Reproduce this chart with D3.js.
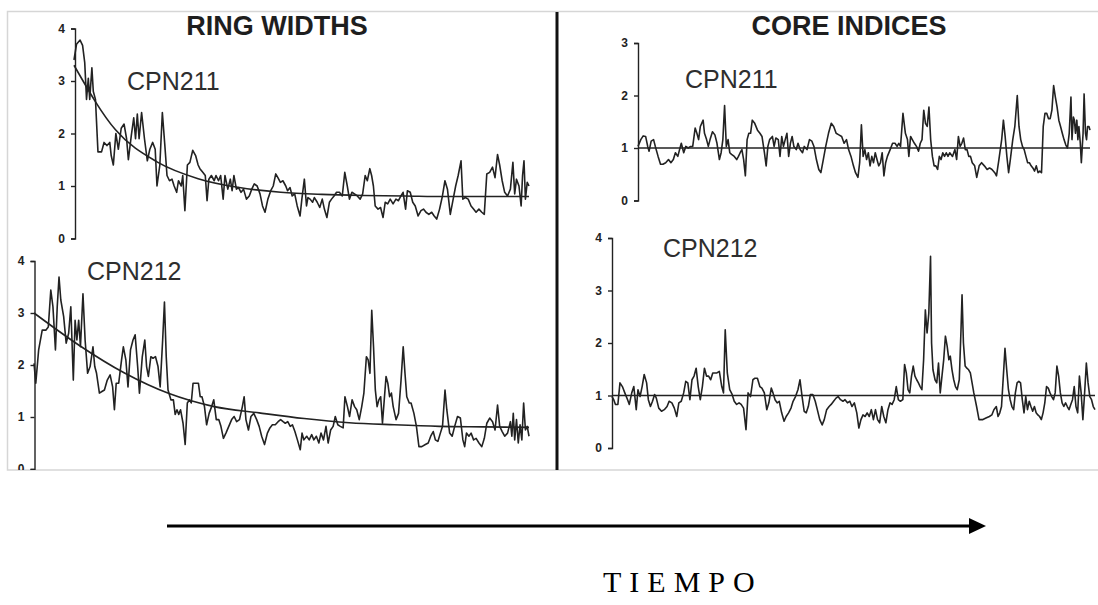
<!DOCTYPE html>
<html>
<head>
<meta charset="utf-8">
<script src="https://cdn.jsdelivr.net/npm/d3@7"></script>
<style>
	body { margin: 0; background: #fff; }
	svg { display: block; }
</style>
</head>
<body>
<script>
// ring position (relative time units), value
var rw211 = [[208,3.4],[215,3.7],[225,3.78],[232,3.68],[238,3.35],[243,2.65],[248,3.05],[252,2.65],[258,3.25],[262,2.8],[268,2.65],[275,1.65],[285,1.65],[292,1.83],[300,1.77],[308,1.83],[312,1.58],[318,1.4],[325,2.0],[332,1.7],[340,2.1],[348,2.18],[355,1.9],[360,1.5],[368,1.95],[375,2.3],[380,1.9],[385,2.37],[390,1.9],[397,2.4],[405,1.9],[413,1.48],[420,1.7],[428,1.83],[435,1.7],[440,1.0],[448,1.4],[455,2.4],[462,1.77],[468,1.2],[475,1.1],[482,1.13],[488,1.0],[495,0.88],[500,1.1],[508,1.0],[512,1.2],[518,0.53],[525,1.4],[532,1.45],[540,1.68],[548,1.58],[555,1.4],[560,1.33],[568,1.26],[575,1.2],[580,0.72],[585,1.13],[592,1.2],[600,1.1],[605,1.2],[612,1.1],[618,1.2],[625,0.75],[630,1.2],[638,0.94],[645,1.13],[650,0.91],[655,1.2],[662,0.94],[668,0.97],[675,0.88],[682,0.94],[690,0.75],[698,0.81],[705,0.94],[712,1.04],[720,1.0],[728,0.85],[735,0.62],[742,0.5],[750,0.75],[758,0.91],[765,1.0],[772,1.23],[778,1.16],[785,1.07],[792,1.1],[800,1.0],[805,0.91],[812,0.97],[818,0.81],[825,0.85],[832,0.62],[840,0.43],[845,0.75],[852,1.13],[858,0.62],[862,0.78],[868,0.75],[875,0.69],[880,0.78],[888,0.69],[895,0.59],[902,0.75],[908,0.56],[915,0.4],[922,0.69],[928,0.75],[935,0.81],[942,0.88],[950,0.88],[958,0.81],[965,1.26],[972,1.0],[978,0.75],[985,0.88],[992,0.85],[1000,0.81],[1008,0.75],[1015,0.85],[1022,1.2],[1028,1.1],[1035,1.33],[1040,1.2],[1045,1.0],[1050,0.62],[1058,0.56],[1065,0.59],[1072,0.4],[1078,0.69],[1085,0.66],[1092,0.75],[1100,0.66],[1108,0.75],[1115,0.72],[1122,0.81],[1128,0.88],[1135,0.56],[1140,0.91],[1148,0.88],[1155,0.69],[1162,0.62],[1170,0.43],[1178,0.53],[1185,0.56],[1192,0.5],[1200,0.46],[1208,0.5],[1215,0.43],[1222,0.37],[1230,0.56],[1238,0.81],[1245,1.1],[1252,0.94],[1260,0.46],[1268,0.75],[1275,1.0],[1282,1.2],[1290,1.48],[1295,0.75],[1302,0.78],[1310,0.75],[1318,0.62],[1325,0.56],[1332,0.5],[1340,0.56],[1348,0.5],[1355,0.46],[1362,1.23],[1370,1.26],[1378,1.36],[1385,1.16],[1392,1.6],[1398,1.4],[1405,1.1],[1412,0.88],[1420,0.81],[1428,0.94],[1435,1.45],[1440,0.85],[1445,1.13],[1452,1.0],[1458,0.62],[1462,1.2],[1466,1.48],[1470,0.75],[1475,1.07],[1480,1.0]];

var rw211Trend = [[208,3.3],[324,2.07],[440,1.46],[555,1.14],[670,0.97],[786,0.88],[901,0.84],[1017,0.82],[1133,0.81],[1248,0.8],[1364,0.8],[1480,0.8]];

var rw212 = [[95,2.03],[100,1.65],[108,2.29],[118,2.67],[128,2.67],[135,2.73],[142,3.44],[148,3.12],[155,2.29],[160,3.12],[165,3.69],[170,3.25],[178,2.93],[185,2.42],[192,2.61],[198,3.12],[205,1.71],[210,2.86],[215,2.48],[220,2.86],[225,2.35],[232,3.37],[238,2.48],[245,1.84],[252,1.97],[260,2.35],[265,1.97],[270,1.84],[278,1.46],[285,1.49],[292,1.52],[300,1.71],[308,1.81],[315,1.58],[320,1.14],[325,1.65],[332,1.65],[340,2.1],[345,2.35],[352,2.1],[358,1.58],[365,2.29],[372,2.48],[378,2.58],[385,1.97],[390,1.46],[398,2.16],[405,2.48],[410,1.97],[415,1.78],[422,2.16],[428,2.13],[435,2.16],[442,1.97],[448,1.58],[455,2.48],[460,3.21],[465,2.16],[470,1.52],[478,1.33],[485,1.33],[490,1.05],[495,1.14],[500,1.05],[505,1.14],[512,0.88],[518,0.47],[524,1.27],[530,1.33],[535,1.27],[540,1.65],[548,1.65],[555,1.65],[560,1.39],[565,1.39],[572,1.2],[578,0.85],[585,1.07],[592,1.2],[598,1.33],[605,0.95],[612,0.95],[618,0.82],[625,0.59],[632,0.69],[640,0.82],[648,0.95],[655,1.01],[662,0.91],[670,0.95],[678,1.2],[683,1.39],[688,0.95],[695,0.75],[702,1.01],[710,1.07],[718,0.95],[725,0.82],[732,0.63],[740,0.47],[748,0.69],[755,0.79],[762,0.85],[770,0.85],[778,0.91],[785,0.95],[792,0.91],[798,0.88],[805,0.91],[812,0.82],[818,0.85],[825,0.72],[832,0.56],[840,0.37],[845,0.69],[850,0.56],[858,0.63],[865,0.56],[872,0.66],[878,0.56],[885,0.63],[892,0.5],[898,0.69],[905,0.56],[912,0.82],[918,0.5],[925,0.75],[932,0.82],[938,1.01],[945,0.85],[952,0.82],[960,0.79],[965,1.39],[972,1.2],[978,1.01],[985,1.33],[992,1.2],[998,1.14],[1005,0.95],[1012,1.2],[1018,1.46],[1025,2.16],[1030,2.1],[1035,1.84],[1040,3.05],[1045,2.35],[1050,1.52],[1055,1.2],[1060,1.33],[1065,1.39],[1070,0.88],[1075,1.33],[1080,1.78],[1085,1.65],[1090,1.39],[1095,1.46],[1100,1.2],[1108,0.95],[1115,1.07],[1122,1.71],[1128,2.35],[1133,1.84],[1138,1.39],[1145,1.27],[1150,1.27],[1158,1.07],[1165,0.82],[1172,0.43],[1180,0.43],[1190,0.47],[1198,0.5],[1205,0.63],[1212,0.72],[1218,0.56],[1225,0.53],[1232,0.69],[1238,0.82],[1245,1.52],[1250,1.14],[1258,0.69],[1265,0.63],[1272,0.82],[1280,1.01],[1288,0.98],[1295,0.56],[1300,0.43],[1305,0.69],[1312,0.63],[1318,0.69],[1325,0.56],[1332,0.59],[1340,0.5],[1348,0.43],[1355,0.59],[1362,0.88],[1370,0.98],[1378,0.91],[1385,0.75],[1392,1.23],[1398,0.82],[1405,0.72],[1412,0.63],[1420,0.69],[1428,0.91],[1432,0.63],[1436,1.07],[1440,0.56],[1445,0.95],[1450,0.5],[1455,0.85],[1460,0.56],[1465,1.27],[1470,0.75],[1475,0.82],[1480,0.63]];

var rw212Trend = [[95,3.0],[221,2.38],[347,1.85],[473,1.45],[599,1.2],[725,1.08],[851,0.97],[977,0.89],[1103,0.85],[1229,0.82],[1355,0.81],[1480,0.8]];

var ci211 = [[240,1.03],[248,1.16],[255,1.23],[262,1.22],[268,1.03],[272,0.94],[278,1.13],[285,1.16],[290,1.03],[298,0.84],[305,0.69],[312,0.69],[320,0.72],[328,0.78],[335,0.72],[342,0.78],[348,0.91],[355,0.84],[360,0.97],[365,1.09],[372,0.91],[378,1.03],[385,1.0],[392,1.03],[398,1.03],[405,1.38],[410,1.28],[415,1.16],[420,1.41],[428,1.53],[432,1.28],[438,1.16],[443,1.03],[448,1.16],[455,1.31],[462,1.25],[468,1.09],[475,0.78],[480,0.91],[485,1.16],[490,1.81],[495,1.03],[500,1.16],[505,0.91],[510,0.88],[518,0.84],[525,0.78],[530,0.84],[535,0.91],[540,0.97],[545,0.78],[550,0.47],[555,1.16],[560,1.28],[565,1.28],[570,1.53],[577,1.47],[585,1.34],[592,1.28],[598,1.22],[605,0.91],[610,0.66],[615,1.03],[620,1.16],[628,1.22],[633,1.03],[638,1.19],[645,1.16],[650,0.84],[655,1.22],[660,1.03],[665,1.16],[670,1.28],[675,0.84],[680,1.09],[685,1.22],[690,1.03],[697,0.97],[702,1.09],[708,0.97],[715,0.91],[720,1.03],[728,0.97],[735,1.16],[742,1.13],[748,1.03],[755,0.78],[762,0.59],[768,0.53],[775,0.78],[782,1.03],[790,1.28],[798,1.47],[805,1.41],[812,1.28],[820,1.25],[828,1.22],[835,1.09],[842,1.16],[848,0.97],[855,0.84],[862,0.66],[868,0.53],[875,0.44],[880,0.72],[885,1.44],[890,0.84],[895,0.97],[900,0.78],[905,0.91],[910,0.66],[915,0.84],[920,0.72],[925,0.91],[930,0.78],[935,0.66],[940,0.72],[945,0.91],[950,0.47],[955,0.72],[960,0.84],[968,0.97],[975,1.09],[982,1.09],[988,1.03],[993,1.09],[998,1.03],[1005,1.66],[1012,1.28],[1018,1.16],[1022,0.84],[1027,1.22],[1032,1.16],[1038,1.09],[1044,1.03],[1050,0.94],[1055,1.09],[1060,1.16],[1065,1.72],[1070,1.47],[1075,1.41],[1080,1.78],[1085,1.16],[1090,0.84],[1095,0.66],[1100,0.66],[1105,0.59],[1110,0.84],[1115,0.78],[1120,0.91],[1125,0.84],[1130,0.91],[1135,0.84],[1140,0.91],[1148,0.84],[1155,0.97],[1160,0.78],[1165,1.22],[1170,1.03],[1175,1.09],[1180,1.19],[1185,0.97],[1190,0.97],[1195,0.84],[1200,0.84],[1205,0.72],[1212,0.66],[1218,0.44],[1225,0.66],[1232,0.72],[1240,0.66],[1248,0.59],[1255,0.62],[1262,0.59],[1270,0.53],[1275,0.47],[1282,0.78],[1290,1.16],[1295,1.53],[1300,1.22],[1305,0.84],[1310,0.53],[1315,0.78],[1322,1.16],[1328,1.41],[1335,2.0],[1340,1.41],[1345,1.16],[1350,1.03],[1355,0.97],[1360,0.84],[1365,0.72],[1370,0.72],[1375,0.66],[1380,0.62],[1385,0.56],[1390,0.66],[1395,0.53],[1400,0.56],[1405,0.53],[1410,1.41],[1415,1.66],[1420,1.66],[1425,1.56],[1430,1.56],[1435,1.72],[1440,2.19],[1445,1.97],[1450,1.78],[1455,1.53],[1460,1.41],[1465,1.28],[1470,1.16],[1475,1.06],[1480,1.0],[1485,1.28],[1490,1.97],[1493,1.16],[1497,1.59],[1500,1.53],[1503,1.28],[1507,1.53],[1510,1.16],[1513,1.41],[1517,1.09],[1520,0.72],[1525,1.28],[1528,2.03],[1532,1.28],[1535,1.16],[1538,1.41],[1542,1.41],[1545,1.34]];

var ci212 = [[165,0.98],[170,0.92],[175,0.83],[182,0.83],[188,1.24],[195,1.17],[202,1.05],[210,0.92],[215,0.83],[222,1.05],[228,1.17],[235,0.73],[240,1.11],[246,0.98],[252,1.17],[258,1.4],[265,1.24],[270,0.92],[276,0.79],[282,0.89],[288,1.02],[293,0.95],[300,0.76],[308,0.7],[316,0.73],[324,0.79],[330,0.89],[338,0.86],[345,0.76],[352,0.6],[358,0.86],[365,0.89],[372,1.05],[378,1.27],[384,1.24],[390,0.92],[396,1.3],[402,1.37],[408,1.52],[414,1.17],[420,0.92],[426,1.17],[432,1.52],[438,1.37],[444,1.37],[450,1.3],[456,1.43],[462,1.43],[468,1.43],[475,1.46],[482,1.17],[487,1.05],[492,2.25],[498,1.43],[505,1.11],[512,1.02],[518,0.89],[525,0.83],[532,0.86],[538,0.83],[545,0.76],[552,0.35],[558,1.05],[565,0.98],[572,1.3],[578,1.33],[585,1.33],[592,1.17],[598,1.14],[605,1.05],[612,0.73],[618,0.86],[625,1.14],[630,1.05],[636,0.92],[642,0.86],[648,0.89],[655,0.67],[662,0.51],[668,0.6],[675,0.67],[682,0.76],[688,0.89],[695,0.98],[702,1.11],[708,1.3],[714,0.98],[720,0.7],[726,0.67],[732,0.79],[738,1.02],[745,1.02],[752,0.89],[758,0.73],[765,0.54],[772,0.44],[778,0.54],[785,0.73],[792,0.79],[798,0.83],[805,0.89],[812,0.95],[818,0.98],[825,0.92],[832,0.89],[838,0.92],[845,0.86],[852,0.89],[858,0.79],[865,0.86],[872,0.67],[878,0.38],[884,0.54],[890,0.63],[896,0.6],[902,0.67],[908,0.6],[914,0.73],[920,0.54],[926,0.73],[932,0.54],[938,0.48],[944,0.79],[950,0.6],[956,0.48],[962,0.73],[968,0.86],[974,0.83],[980,0.92],[986,1.17],[992,0.92],[998,0.89],[1005,0.92],[1010,1.59],[1015,1.43],[1020,1.11],[1025,1.05],[1030,1.37],[1035,1.56],[1040,1.37],[1045,1.3],[1050,1.24],[1055,1.17],[1060,1.11],[1065,1.68],[1070,2.63],[1075,2.19],[1080,2.57],[1085,3.65],[1088,2.0],[1092,1.49],[1098,1.3],[1103,1.24],[1108,1.62],[1113,1.05],[1118,1.37],[1123,1.68],[1128,2.13],[1133,1.94],[1138,1.68],[1142,1.75],[1147,1.49],[1152,1.3],[1157,1.17],[1162,1.11],[1168,1.3],[1173,2.25],[1176,2.92],[1180,2.0],[1185,1.56],[1190,1.52],[1195,1.49],[1200,1.43],[1205,1.24],[1210,1.05],[1218,0.79],[1225,0.54],[1235,0.54],[1245,0.57],[1255,0.6],[1262,0.63],[1268,0.73],[1275,0.79],[1280,0.6],[1285,0.67],[1290,0.79],[1297,1.56],[1300,1.9],[1305,1.49],[1310,1.11],[1315,0.92],[1320,0.79],[1325,0.73],[1330,1.05],[1335,1.24],[1340,1.27],[1345,1.24],[1350,0.92],[1355,0.67],[1360,0.98],[1365,0.73],[1370,0.89],[1375,0.79],[1380,0.7],[1385,0.79],[1390,0.67],[1395,0.63],[1400,0.6],[1405,0.54],[1410,0.67],[1415,0.86],[1420,1.17],[1425,1.14],[1430,1.05],[1435,0.98],[1440,0.92],[1445,1.05],[1450,1.56],[1455,1.37],[1460,1.05],[1465,0.86],[1470,0.79],[1475,0.86],[1480,0.79],[1485,0.73],[1490,0.83],[1495,0.92],[1500,1.17],[1505,0.79],[1510,0.67],[1515,1.37],[1520,1.05],[1525,0.54],[1530,1.05],[1535,1.62],[1540,1.24],[1545,0.98],[1550,0.92],[1555,0.79],[1560,0.73]];

var indexLevel = 1;
var titles = ["RING WIDTHS", "CORE INDICES"];
var cores = ["CPN211", "CPN212"];
var axisLabel = "TIEMPO";

var width	= 1098,
	height	= 605,
	ink		= "#222";

var svg = d3.select("body")
	.append("svg")
	.attr("width", width)
	.attr("height", height);

svg.append("clipPath")
	.attr("id", "scan")
	.append("rect")
	.attr("x", 8)
	.attr("y", 12)
	.attr("width", 1090)
	.attr("height", 458);

// faint edge of the scanned figure
svg.append("rect")
	.attr("x", 7.5)
	.attr("y", 11.5)
	.attr("width", 1100)
	.attr("height", 458.5)
	.attr("fill", "none")
	.attr("stroke", "#d6d6d6")
	.attr("stroke-width", 1.5);

var scan = svg.append("g").attr("clip-path", "url(#scan)");

function panel(cfg) {
	var x = d3.scaleLinear()
		.domain(d3.extent(cfg.data, function(d) { return d[0]; }))
		.range(cfg.xRange);
	var y = d3.scaleLinear()
		.domain([0, cfg.max])
		.range(cfg.yRange);
	var line = d3.line()
		.x(function(d) { return x(d[0]); })
		.y(function(d) { return y(d[1]); });

	var ax = scan.append("g")
		.attr("transform", "translate(" + cfg.axisX + ",0)")
		.call(d3.axisLeft(y).ticks(cfg.max).tickSize(4).tickSizeOuter(4).tickPadding(6).tickFormat(d3.format("d")));
	ax.selectAll("path, line").attr("stroke", ink).attr("stroke-width", 1.4);
	ax.selectAll("text")
		.attr("fill", "#222")
		.style("font-family", "Liberation Sans, Arial, sans-serif")
		.style("font-size", "12px")
		.style("font-weight", "bold");

	if (cfg.trend) {
		scan.append("path")
			.datum(cfg.trend)
			.attr("fill", "none")
			.attr("stroke", ink)
			.attr("stroke-width", 1.6)
			.attr("d", line.curve(d3.curveMonotoneX));
		line.curve(d3.curveLinear);
	}
	if (cfg.index) {
		var ends = x.domain();
		scan.append("path")
			.datum([[ends[0], indexLevel], [ends[1], indexLevel]])
			.attr("fill", "none")
			.attr("stroke", ink)
			.attr("stroke-width", 1.6)
			.attr("d", line);
	}
	scan.append("path")
		.datum(cfg.data)
		.attr("fill", "none")
		.attr("stroke", ink)
		.attr("stroke-width", 1.6)
		.attr("stroke-linejoin", "round")
		.attr("d", line);

	scan.append("text")
		.attr("x", cfg.labelX)
		.attr("y", cfg.labelY)
		.attr("fill", "#2e2e2e")
		.style("font-family", "Liberation Sans, Arial, sans-serif")
		.style("font-size", "25px")
		.text(cfg.label);
}

panel({data: rw211, trend: rw211Trend, max: 4, xRange: [74, 529], yRange: [238.5, 28.5], axisX: 75, label: cores[0], labelX: 127, labelY: 90});
panel({data: rw212, trend: rw212Trend, max: 4, xRange: [34, 529], yRange: [469, 261], axisX: 34.5, label: cores[1], labelX: 87, labelY: 280});
panel({data: ci211, index: true, max: 3, xRange: [638, 1090], yRange: [200.5, 43], axisX: 638, label: cores[0], labelX: 685, labelY: 88});
panel({data: ci212, index: true, max: 4, xRange: [612, 1095], yRange: [448, 238], axisX: 612, label: cores[1], labelX: 663, labelY: 257});

scan.selectAll(".title")
	.data(titles)
	.enter()
	.append("text")
	.attr("class", "title")
	.attr("x", function(d, i) { return i ? 849 : 277; })
	.attr("y", 35)
	.attr("text-anchor", "middle")
	.attr("fill", "#1e1e1e")
	.style("font-family", "Liberation Sans, Arial, sans-serif")
	.style("font-size", "27px")
	.style("font-weight", "bold")
	.text(function(d) { return d; });

// divider between the two halves
svg.append("line")
	.attr("x1", 557)
	.attr("x2", 557)
	.attr("y1", 12)
	.attr("y2", 470)
	.attr("stroke", "#111")
	.attr("stroke-width", 3);

// time arrow
svg.append("line")
	.attr("x1", 167)
	.attr("x2", 972)
	.attr("y1", 526)
	.attr("y2", 526)
	.attr("stroke", "#000")
	.attr("stroke-width", 3);
svg.append("path")
	.attr("d", "M969,518L986,526L969,534Z")
	.attr("fill", "#000");

svg.append("text")
	.attr("x", 603)
	.attr("y", 592)
	.attr("fill", "#000")
	.style("font-family", "Liberation Serif, Times New Roman, serif")
	.style("font-size", "30px")
	.style("letter-spacing", "8px")
	.text(axisLabel);
</script>
</body>
</html>
